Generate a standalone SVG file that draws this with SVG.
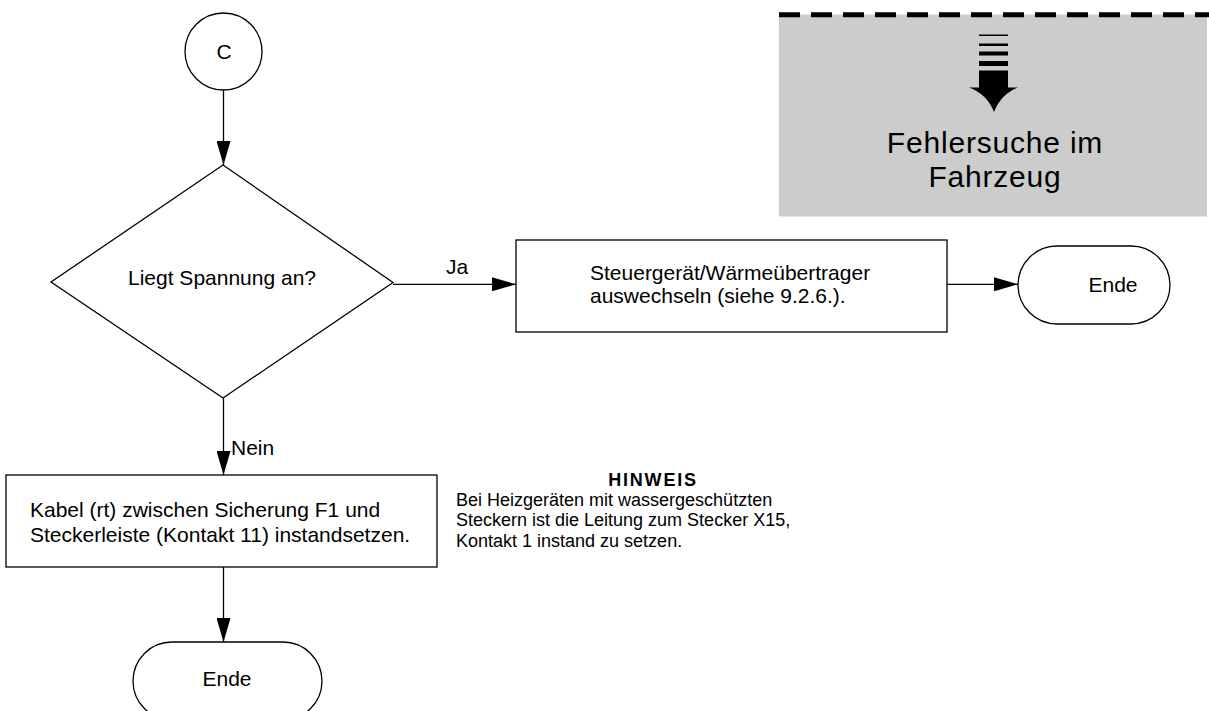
<svg xmlns="http://www.w3.org/2000/svg" width="1209" height="711" viewBox="0 0 1209 711">
  <style>
    .shape { fill: #ffffff; stroke: #000000; stroke-width: 1.3; }
    .edge { fill: none; stroke: #000000; stroke-width: 1.3; }
    .txt { font-family: "Liberation Sans", Arial, sans-serif; font-size: 21px; fill: #000000; }
    .note { font-family: "Liberation Sans", Arial, sans-serif; font-size: 18px; fill: #000000; }
    .title { font-family: "Liberation Sans", Arial, sans-serif; font-size: 30px; fill: #000000; text-anchor: middle; }
  </style>
  <defs>
    <marker id="arrow" markerUnits="userSpaceOnUse" markerWidth="24" markerHeight="14" refX="24" refY="7" orient="auto">
      <path d="M0,0 L24,7 L0,14 Z" fill="#000000"/>
    </marker>
  </defs>

  <rect width="1209" height="711" fill="#ffffff"/>

  <!-- section banner -->
  <g id="banner">
    <rect x="779" y="14.5" width="428" height="202" fill="#cccccc"/>
    <line x1="779" y1="14.8" x2="1209" y2="14.8" stroke="#000000" stroke-width="5" stroke-dasharray="21 11"/>
    <rect x="979" y="34.5" width="29" height="1.5" fill="#000000"/>
    <rect x="979" y="43.5" width="29" height="2.5" fill="#000000"/>
    <rect x="979" y="51.5" width="29" height="4" fill="#000000"/>
    <rect x="979" y="61" width="29" height="5" fill="#000000"/>
    <rect x="979" y="70.5" width="29" height="17.5" fill="#000000"/>
    <path d="M969,87.5 L1018,87.5 Q1001,94 994,112 Q987,94 969,87.5 Z" fill="#000000"/>
    <text class="title" x="995" y="153" letter-spacing="0.8">Fehlersuche im</text>
    <text class="title" x="995" y="187" letter-spacing="0.8">Fahrzeug</text>
  </g>

  <!-- connectors -->
  <g id="connectors">
    <line class="edge" x1="223.5" y1="90" x2="223.5" y2="165" marker-end="url(#arrow)"/>
    <line class="edge" x1="393" y1="284.3" x2="516" y2="284.3" marker-end="url(#arrow)"/>
    <text class="txt" x="446" y="273.5">Ja</text>
    <line class="edge" x1="947" y1="284.3" x2="1018" y2="284.3" marker-end="url(#arrow)"/>
    <line class="edge" x1="223.5" y1="398" x2="223.5" y2="475" marker-end="url(#arrow)"/>
    <text class="txt" x="231" y="455">Nein</text>
    <line class="edge" x1="223.5" y1="567" x2="223.5" y2="642" marker-end="url(#arrow)"/>
  </g>

  <g id="start-c">
    <circle class="shape" cx="223.5" cy="51.5" r="38.5"/>
    <text class="txt" x="224" y="58.5" text-anchor="middle">C</text>
  </g>

  <g id="check-voltage">
    <polygon class="shape" points="223,165 393,282.5 223,398 51,282"/>
    <text class="txt" x="128" y="285">Liegt Spannung an?</text>
  </g>

  <g id="replace-unit">
    <rect class="shape" x="516" y="240" width="431" height="92"/>
    <text class="txt" x="590" y="280">Steuergerät/Wärmeübertrager</text>
    <text class="txt" x="590" y="303">auswechseln (siehe 9.2.6.).</text>
  </g>

  <g id="end-right">
    <rect class="shape" x="1018" y="246" width="152" height="78" rx="39" ry="39"/>
    <text class="txt" x="1113" y="292" text-anchor="middle">Ende</text>
  </g>

  <g id="repair-cable">
    <rect class="shape" x="6" y="475" width="431" height="92"/>
    <text class="txt" x="30" y="516.5">Kabel (rt) zwischen Sicherung F1 und</text>
    <text class="txt" x="30" y="541.5">Steckerleiste (Kontakt 11) instandsetzen.</text>
  </g>

  <g id="note">
    <text class="note" x="653" y="485.5" text-anchor="middle" font-weight="bold" letter-spacing="1.8">HINWEIS</text>
    <text class="note" x="456" y="505.5">Bei Heizgeräten mit wassergeschützten</text>
    <text class="note" x="456" y="526">Steckern ist die Leitung zum Stecker X15,</text>
    <text class="note" x="456" y="546.5">Kontakt 1 instand zu setzen.</text>
  </g>

  <g id="end-bottom">
    <rect class="shape" x="133" y="642" width="189" height="78" rx="39" ry="39"/>
    <text class="txt" x="227" y="686" text-anchor="middle">Ende</text>
  </g>
</svg>
